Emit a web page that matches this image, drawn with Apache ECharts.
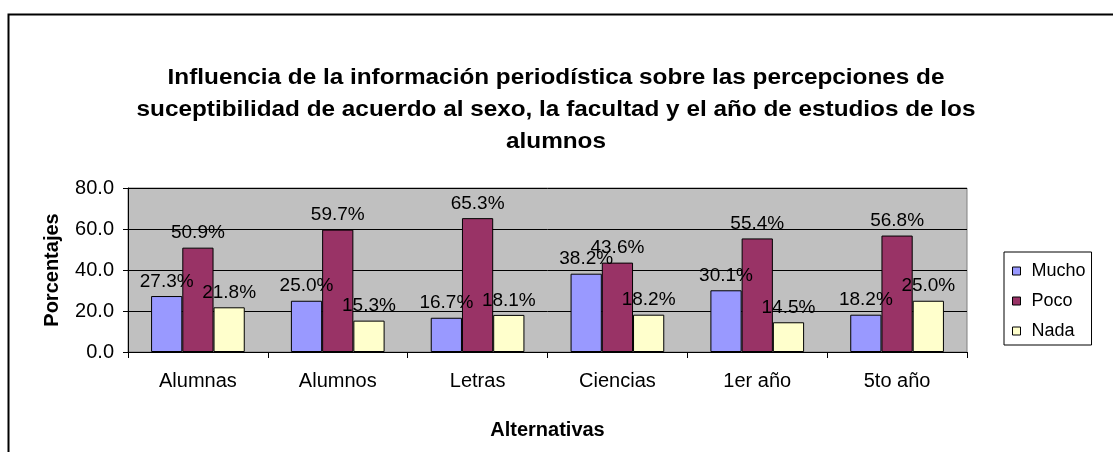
<!DOCTYPE html>
<html>
<head>
<meta charset="utf-8">
<script src="https://cdn.jsdelivr.net/npm/echarts@6/dist/echarts.min.js"></script>
<style>
  html, body { margin: 0; padding: 0; background: #ffffff; }
  #chart { width: 1113px; height: 452px; }
</style>
</head>
<body>
<div id="chart"></div>
<script>
// Categories and percentages per response group
const categories = ['Alumnas', 'Alumnos', 'Letras', 'Ciencias', '1er año', '5to año'];
const mucho = [27.3, 25.0, 16.7, 38.2, 30.1, 18.2];
const poco  = [50.9, 59.7, 65.3, 43.6, 55.4, 56.8];
const nada  = [21.8, 15.3, 18.1, 18.2, 14.5, 25.0];
const yTicks = [0, 20, 40, 60, 80];
const titleText = 'Influencia de la información periodística sobre las percepciones de\nsuceptibilidad de acuerdo al sexo, la facultad y el año de estudios de los\nalumnos';

const FONT = 'Liberation Sans, Arial, sans-serif';

function barSeries(name, data, color) {
  return {
    name: name,
    type: 'bar',
    data: data,
    barGap: '0%',
    barCategoryGap: '33%',
    itemStyle: { color: color, borderColor: '#000', borderWidth: 1 },
    label: {
      show: true,
      position: 'top',
      distance: 5,
      formatter: p => p.value.toFixed(1) + '%',
      fontFamily: FONT,
      fontSize: 19,
      color: '#000'
    }
  };
}

const chart = echarts.init(document.getElementById('chart'), null, { renderer: 'canvas' });
chart.setOption({
  animation: false,
  backgroundColor: '#ffffff',
  textStyle: { fontFamily: FONT },
  graphic: [{
    // chart-area frame
    type: 'rect',
    shape: { x: 8.5, y: 14.5, width: 1200, height: 500 },
    style: { fill: 'none', stroke: '#000', lineWidth: 2 },
    silent: true,
    z: -1
  }, {
    // three-line centred title, slightly widened
    type: 'text',
    x: 556,
    y: 62,
    scaleX: 1.105,
    silent: true,
    style: {
      text: titleText,
      align: 'center',
      verticalAlign: 'top',
      fontFamily: FONT,
      fontSize: 22,
      fontWeight: 'bold',
      lineHeight: 32,
      fill: '#000'
    }
  }],
  legend: {
    orient: 'vertical',
    left: 1004,
    top: 252,
    width: 88,
    padding: [10, 6, 5, 8],
    itemGap: 12,
    itemWidth: 8,
    itemHeight: 8,
    icon: 'rect',
    borderColor: '#000',
    borderWidth: 1,
    backgroundColor: '#fff',
    itemStyle: { borderColor: '#000', borderWidth: 1 },
    textStyle: { fontFamily: FONT, fontSize: 18, color: '#000', padding: [0, 0, 0, 6] },
    data: ['Mucho', 'Poco', 'Nada']
  },
  grid: {
    left: 128, right: 146, top: 188, bottom: 100,
    show: true,
    backgroundColor: '#C0C0C0',
    borderColor: '#808080',
    borderWidth: 1
  },
  xAxis: {
    type: 'category',
    data: categories,
    name: 'Alternativas',
    nameLocation: 'middle',
    nameGap: 68,
    nameTextStyle: { fontFamily: FONT, fontSize: 20, fontWeight: 'bold', color: '#000' },
    axisLine: { lineStyle: { color: '#000', width: 1 } },
    axisTick: { show: true, alignWithLabel: false, length: 6, lineStyle: { color: '#000' } },
    axisLabel: { margin: 19, fontFamily: FONT, fontSize: 20, color: '#000' },
    splitLine: { show: false }
  },
  yAxis: {
    type: 'value',
    min: yTicks[0],
    max: yTicks[yTicks.length - 1],
    interval: yTicks[1] - yTicks[0],
    name: 'Porcentajes',
    nameLocation: 'middle',
    nameGap: 66,
    nameTextStyle: { fontFamily: FONT, fontSize: 20, fontWeight: 'bold', color: '#000' },
    axisLine: { show: true, lineStyle: { color: '#000', width: 1 } },
    axisTick: { show: true, length: 5, lineStyle: { color: '#000' } },
    axisLabel: { margin: 14, fontFamily: FONT, fontSize: 20, color: '#000', formatter: v => v.toFixed(1) },
    splitLine: { show: true, lineStyle: { color: '#000', width: 1 } }
  },
  series: [
    barSeries('Mucho', mucho, '#9999FF'),
    barSeries('Poco', poco, '#993366'),
    barSeries('Nada', nada, '#FFFFCC')
  ]
});
</script>
</body>
</html>
